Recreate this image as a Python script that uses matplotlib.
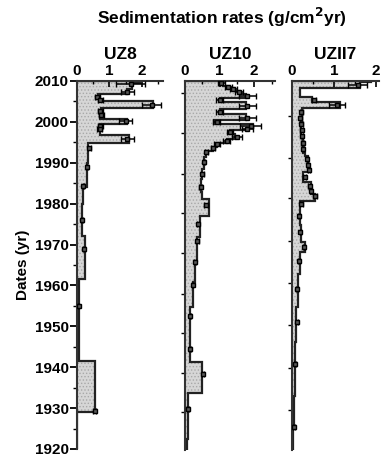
import matplotlib
matplotlib.use("Agg")
import matplotlib.pyplot as plt
import numpy as np
from matplotlib.ticker import MultipleLocator, FixedLocator

plt.rcParams['font.family'] = ['Liberation Sans', 'DejaVu Sans']
plt.rcParams['font.weight'] = 'bold'
plt.rcParams['hatch.linewidth'] = 0.6

# ---- UZ8: step profile (year edges, rate per interval) + dated points ----
uz8_edges = [1920, 1929, 1941.5, 1961.5, 1972, 1980, 1984, 1990, 1994.9, 1996.7,
             1998.8, 1999.6, 2000.8, 2002.0, 2003.3, 2005.0, 2006.0, 2006.8,
             2008.0, 2009.6, 2010]
uz8_rate = [0.0, 0.55, 0.06, 0.25, 0.15, 0.2, 0.3, 0.35, 1.6, 0.7,
            0.72, 1.55, 0.7, 0.75, 2.35, 0.72, 0.65, 1.55, 1.7, 1.95]
uz8_year = [2009.3, 2007.3, 2006.2, 2005.4, 2004.1, 2002.6, 2001.6, 2000.1, 1999.1,
            1998.2, 1995.8, 1993.6, 1989.0, 1984.2, 1976.0, 1969.0, 1954.9, 1929.3]
uz8_val = [1.65, 1.55, 0.62, 0.72, 2.3, 0.72, 0.75, 1.5, 0.72,
           0.7, 1.55, 0.38, 0.3, 0.2, 0.15, 0.22, 0.05, 0.55]
uz8_err = [0.45, 0.2, 0.08, 0.08, 0.3, 0.08, 0.08, 0.2, 0.08,
           0.08, 0.2, 0.04, 0.03, 0.03, 0.03, 0.03, 0.02, 0.05]

# ---- UZ10 ----
uz10_edges = [1920, 1922.7, 1933.9, 1941.5, 1955, 1961, 1966, 1972, 1977.1, 1981.3,
              1983, 1986, 1988.5, 1991.5, 1993.0, 1994.0, 1995.0, 1995.9, 1997.0,
              1998.0, 1998.6, 1999.5, 2000.6, 2001.9, 2003.2, 2004.8, 2005.9,
              2006.9, 2007.6, 2008.3, 2008.9, 2009.5, 2010]
uz10_rate = [0.05, 0.09, 0.5, 0.14, 0.22, 0.28, 0.34, 0.42, 0.68,
             0.5, 0.46, 0.5, 0.55, 0.6, 0.8, 0.92, 1.2, 1.45,
             1.3, 1.8, 1.95, 0.85, 1.75, 1.0, 1.75, 1.0,
             1.75, 1.6, 1.45, 1.3, 1.1, 1.0]
uz10_year = [2009.5, 2008.6, 2008.0, 2007.3, 2006.4, 2005.3, 2003.8, 2002.5, 2001.0,
             2000.0, 1999.0, 1998.3, 1997.5, 1996.4, 1995.4, 1994.6, 1993.6, 1992.6,
             1990.2, 1987.3, 1984.1, 1979.8, 1975.1, 1971.0, 1965.8, 1960.2, 1952.8,
             1944.6, 1938.5, 1930.0]
uz10_val = [1.05, 1.25, 1.4, 1.55, 1.8, 1.0, 1.8, 1.0, 1.8,
            0.92, 1.9, 1.8, 1.3, 1.5, 1.2, 0.92, 0.8, 0.62,
            0.55, 0.5, 0.45, 0.6, 0.37, 0.36, 0.3, 0.22, 0.15,
            0.14, 0.52, 0.09]
uz10_err = [0.1, 0.1, 0.1, 0.12, 0.25, 0.1, 0.25, 0.1, 0.25,
            0.1, 0.3, 0.15, 0.1, 0.15, 0.1, 0.08, 0.06, 0.05,
            0.04, 0.04, 0.04, 0.05, 0.03, 0.03, 0.03, 0.02, 0.02,
            0.02, 0.04, 0.02]

# ---- UZII7 ----
uz117_edges = [1920, 1925.1, 1933.2, 1946.3, 1955, 1963, 1968.3, 1970.7, 1975,
               1980.8, 1982.5, 1985.4, 1987.8, 1991.7, 1992.5, 1996, 2000,
               2003.3, 2005.0, 2006.0, 2008.3, 2009.7, 2010]
uz117_rate = [0.02, 0.05, 0.07, 0.1, 0.14, 0.2, 0.3, 0.22,
              0.2, 0.55, 0.45, 0.27, 0.38, 0.3, 0.25, 0.22,
              0.24, 1.15, 0.48, 0.2, 1.62, 1.88]
uz117_year = [2009.0, 2005.4, 2004.1, 2002.5, 2001.0, 1999.5, 1998.0, 1996.5, 1995.0,
              1993.5, 1991.0, 1989.5, 1988.2, 1986.5, 1984.5, 1983.2, 1982.0, 1980.0,
              1977.1, 1973.2, 1969.4, 1966.2, 1959.3, 1951.1, 1941.0, 1925.5]
uz117_val = [1.56, 0.52, 1.07, 0.22, 0.2, 0.22, 0.23, 0.24, 0.25,
             0.26, 0.36, 0.38, 0.4, 0.3, 0.42, 0.45, 0.55, 0.22,
             0.16, 0.2, 0.28, 0.16, 0.12, 0.12, 0.07, 0.05]
uz117_err = [0.22, 0.05, 0.2, 0.03, 0.03, 0.03, 0.03, 0.03, 0.03,
             0.03, 0.03, 0.03, 0.03, 0.03, 0.03, 0.03, 0.04, 0.03,
             0.02, 0.02, 0.03, 0.02, 0.02, 0.02, 0.02, 0.02]

fig = plt.figure(figsize=(3.82, 4.59), dpi=100)
W, H = 382, 459


def make_ax(x0, x_end, y_top, y_bot):
    return fig.add_axes([x0 / W, 1 - y_bot / H, (x_end - x0) / W, (y_bot - y_top) / H])


ax1 = make_ax(77, 163, 81, 449)
ax2 = make_ax(185, 275, 81, 450)
ax3 = make_ax(292, 379, 81, 450)

panels = [
    (ax1, 'UZ8', 2.65, uz8_edges, uz8_rate, uz8_year, uz8_val, uz8_err),
    (ax2, 'UZ10', 2.6, uz10_edges, uz10_rate, uz10_year, uz10_val, uz10_err),
    (ax3, 'UZII7', 2.07, uz117_edges, uz117_rate, uz117_year, uz117_val, uz117_err),
]

for ax, name, xmax, edges, rate, yr, val, err in panels:
    ax.stairs(rate, edges, orientation='horizontal', baseline=0, fill=True,
              facecolor='#d6d6d6', edgecolor='#a8a8a8', hatch='.....', linewidth=0)
    ax.stairs(rate, edges, orientation='horizontal', baseline=0, fill=False,
              color='#222222', linewidth=1.6)
    ax.errorbar(val, yr, xerr=err, fmt='s', ms=3.0, mfc='#5a5a5a', mec='k', mew=1.0,
                ecolor='k', elinewidth=1.1, capsize=2.2, capthick=1.1, zorder=5)
    ax.set_xlim(0, xmax)
    ax.set_ylim(1920, 2010)
    for s in ('right', 'bottom'):
        ax.spines[s].set_visible(False)
    for s in ('left', 'top'):
        ax.spines[s].set_linewidth(1.5)
        ax.spines[s].set_color('#333333')
    ax.xaxis.tick_top()
    ax.set_xticks([0, 1, 2])
    ax.xaxis.set_minor_locator(MultipleLocator(0.5))
    ax.tick_params(axis='x', which='major', direction='in', length=4, width=1.2,
                   labelsize=11, pad=2)
    ax.tick_params(axis='x', which='minor', direction='in', length=2.5, width=1)
    ax.set_title(name, fontsize=12.5, fontweight='bold', pad=16)

ax1.set_yticks(np.arange(1920, 2011, 10))
ax1.yaxis.set_minor_locator(MultipleLocator(5))
ax1.tick_params(axis='y', which='major', direction='out', length=5, width=1.3,
                labelsize=11, pad=1)
ax1.tick_params(axis='y', which='minor', direction='out', length=3, width=1)
ax1.set_ylabel('Dates (yr)', fontsize=11, fontweight='bold', labelpad=3)

ax2.yaxis.set_major_locator(FixedLocator([2007.1, 1997.3, 1987.3, 1977.8, 1968.0,
                                          1958.0, 1948.5, 1938.8, 1929.3]))
ax3.yaxis.set_major_locator(FixedLocator([2001.5, 1991.2, 1981.5, 1971.0, 1960.7,
                                          1950.5, 1940.0, 1929.8]))
for ax in (ax2, ax3):
    ax.tick_params(axis='y', which='major', direction='out', length=3, width=1,
                   labelleft=False)

fig.text(0.58, 0.962, 'Sedimentation rates (g/cm$^{\\mathbf{2}}$yr)', ha='center',
         va='center', fontsize=12.5, fontweight='bold')

fig.savefig('out.png', dpi=100)
